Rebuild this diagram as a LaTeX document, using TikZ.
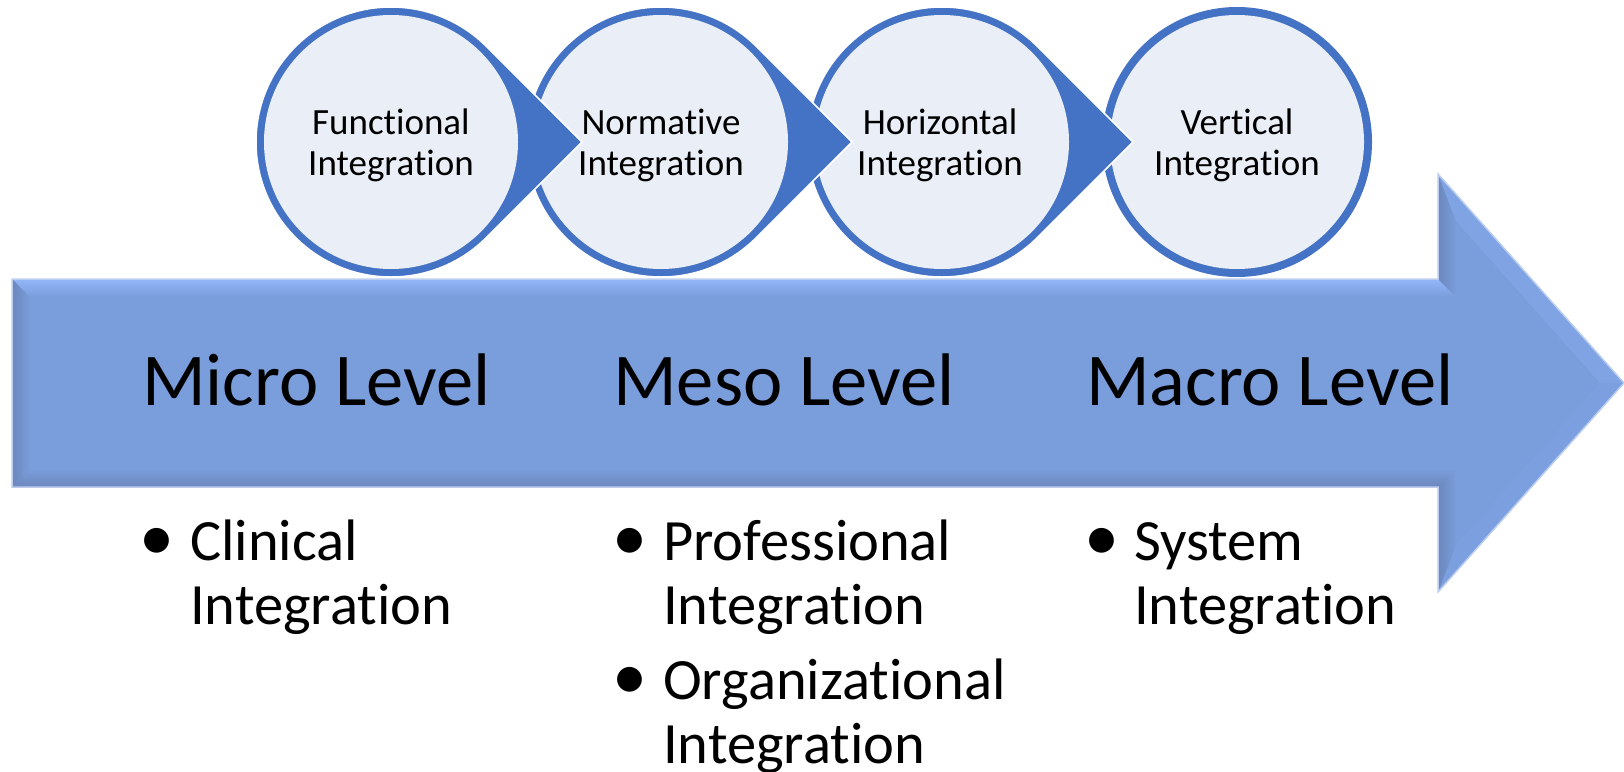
\documentclass[tikz,border=0pt]{standalone}
\usepackage{fontspec}
\setmainfont{Carlito}[Ligatures=NoCommon, RawFeature={-liga;-clig;-dlig}]
\usetikzlibrary{calc}
\newcommand{\tix}{t\kern0pt i}
\definecolor{ring}{RGB}{68,114,196}
\definecolor{disc}{RGB}{234,239,247}
\definecolor{arrowmain}{RGB}{122,157,220}
\definecolor{arrowlight}{RGB}{146,182,248}
\definecolor{arrowdark}{RGB}{108,136,188}
\definecolor{arrowedge}{RGB}{188,206,240}
\begin{document}
\begin{tikzpicture}[x=1pt,y=-1pt,
  teardrop/.style={fill=ring, draw=white, line width=1.5pt},
  discfill/.style={fill=disc},
  disctext/.style={font=\fontsize{37}{41}\selectfont, inner sep=0pt, anchor=base},
  leveltext/.style={font=\fontsize{74.5}{86}\selectfont, inner sep=0pt, anchor=base west},
  itemtext/.style={font=\fontsize{58.5}{64}\selectfont, inner sep=0pt, anchor=base west},
  bulletmark/.style={font=\fontsize{58.5}{64}\selectfont, inner sep=0pt, anchor=base}]
\useasboundingbox (0,0) rectangle (1624,771);

% ---- big arrow ----
\coordinate (A) at (12,279);   \coordinate (B) at (1438,279);
\coordinate (C) at (1438,174); \coordinate (T) at (1624,383);
\coordinate (D) at (1438,592); \coordinate (E) at (1438,487);
\coordinate (F) at (12,487);
\coordinate (A1) at (30,297);   \coordinate (B1) at (1456,297);
\coordinate (C1) at (1456,221); \coordinate (T1) at (1600,383);
\coordinate (D1) at (1456,545); \coordinate (E1) at (1456,469);
\coordinate (F1) at (30,469);
\fill[arrowmain] (A) -- (B) -- (C) -- (T) -- (D) -- (E) -- (F) -- cycle;
\shade[top color=arrowlight, bottom color=arrowmain] (A) -- (B) -- (B1) -- (A1) -- cycle;
\shade[left color=arrowdark, right color=arrowmain] (B) -- (C) -- (C1) -- (B1) -- cycle;
\fill[arrowmain!75!arrowlight] (C) -- (T) -- (T1) -- (C1) -- cycle;
\fill[arrowmain!90!arrowlight] (T) -- (D) -- (D1) -- (T1) -- cycle;
\shade[left color=arrowdark, right color=arrowmain] (D) -- (E) -- (E1) -- (D1) -- cycle;
\shade[top color=arrowmain, bottom color=arrowdark] (E) -- (F) -- (F1) -- (E1) -- cycle;
\shade[left color=arrowdark, right color=arrowmain] (F) -- (A) -- (A1) -- (F1) -- cycle;
\draw[arrowedge, line width=1.5pt, line join=miter] (A) -- (B) -- (C) -- (T) -- (D) -- (E) -- (F) -- cycle;

% ---- circles ----
\coordinate (c1) at (391,142);
\coordinate (c2) at (661,142);
\coordinate (c3) at (942,142);
\coordinate (c4) at (1237,142);

\fill[ring] (c4) circle[radius=135];
\fill[discfill] (c4) circle[radius=127];

\path[teardrop] (c3) ++(45:135) arc[start angle=45, end angle=315, radius=135] -- ($(c3)+(191,0)$) -- cycle;
\fill[discfill] (c3) circle[radius=127];

\path[teardrop] (c2) ++(45:135) arc[start angle=45, end angle=315, radius=135] -- ($(c2)+(191,0)$) -- cycle;
\fill[discfill] (c2) circle[radius=127];

\path[teardrop] (c1) ++(45:135) arc[start angle=45, end angle=315, radius=135] -- ($(c1)+(191,0)$) -- cycle;
\fill[discfill] (c1) circle[radius=127];

\node[disctext] (f1) at (391,134) {Func\tix onal};
\node[disctext] (f2) at (391,175) {Integra\tix on};
\node[disctext] (n1) at (661,134) {Norma\tix ve};
\node[disctext] (n2) at (661,175) {Integra\tix on};
\node[disctext] (h1) at (940,134) {Horizontal};
\node[disctext] (h2) at (940,175) {Integra\tix on};
\node[disctext] (v1) at (1237,134) {Ver\tix cal};
\node[disctext] (v2) at (1237,175) {Integra\tix on};

% ---- levels ----
\node[leveltext] (micro) at (142,405) {Micro Level};
\node[leveltext] (meso) at (613,405) {Meso Level};
\node[leveltext] (macro) at (1086,405) {Macro Level};

% ---- bullet items ----
\node[bulletmark] (bu1) at (157,560) {\scalebox{1.2}{•}};
\node[itemtext] (cl1) at (190,560) {Clinical};
\node[itemtext] (cl2) at (190,624) {Integra\tix on};

\node[bulletmark] (bu2) at (630,560) {\scalebox{1.2}{•}};
\node[itemtext] (pr1) at (663,560) {Professional};
\node[itemtext] (pr2) at (663,624) {Integra\tix on};
\node[bulletmark] (bu3) at (630,699) {\scalebox{1.2}{•}};
\node[itemtext] (or1) at (663,699) {Organiza\tix onal};
\node[itemtext] (or2) at (663,763) {Integra\tix on};

\node[bulletmark] (bu4) at (1102,560) {\scalebox{1.2}{•}};
\node[itemtext] (sy1) at (1134,560) {System};
\node[itemtext] (sy2) at (1134,624) {Integra\tix on};
\end{tikzpicture}
\end{document}
